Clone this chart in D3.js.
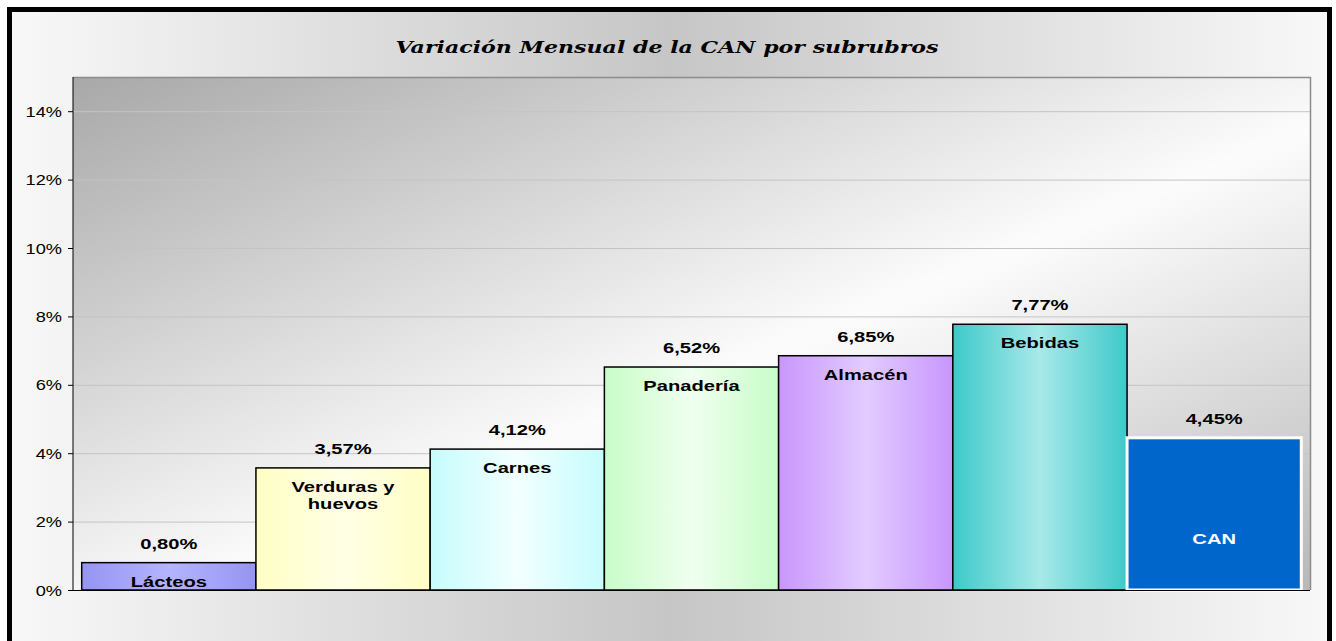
<!DOCTYPE html>
<meta charset="utf-8">
<script src="https://d3js.org/d3.v7.min.js"></script>
<style>
  body { margin: 0; background: #fff; }
  .tick text { font-family: Arial, "Liberation Sans", sans-serif; font-size: 14px; fill: #000; }
  .lbl { font-family: Arial, "Liberation Sans", sans-serif; font-size: 15.5px; font-weight: bold; }
</style>
<svg id="chart" width="1336" height="641"></svg>
<script>
  // data
  var categories = ["Lácteos", "Verduras y huevos", "Carnes", "Panadería", "Almacén", "Bebidas", "CAN"];
  var values = [0.80, 3.57, 4.12, 6.52, 6.85, 7.77, 4.45];
  var yTicks = [0, 2, 4, 6, 8, 10, 12, 14];
  // edge / centre colours of each bar's gradient
  var edgeColors = ["#9595f2", "#fefec4", "#c6fcfc", "#c8fcc8", "#c896fc", "#3ec9c9", "#0066cc"];
  var midColors = ["#b4b4ff", "#ffffe6", "#f2ffff", "#f0fff0", "#e2ccff", "#a8e9e9", "#0066cc"];

  var svg = d3.select("#chart"),
    width = +svg.attr("width"),
    height = +svg.attr("height");

  var SX = 1.3; // the original image is stretched horizontally

  // place a text at (x,y) and stretch it horizontally
  function stretch(sel, x, y) {
    sel.attr("transform", function (d, i) {
      return "translate(" + x(d, i) + "," + y(d, i) + ") scale(" + SX + ",1)";
    });
  }

  var defs = svg.append("defs");

  // outer background gradient
  var bg = defs.append("linearGradient").attr("id", "bg")
    .attr("x1", "0%").attr("y1", "0%").attr("x2", "100%").attr("y2", "0%");
  bg.append("stop").attr("offset", "0%").attr("stop-color", "#f8f8f8");
  bg.append("stop").attr("offset", "50%").attr("stop-color", "#c6c6c6");
  bg.append("stop").attr("offset", "100%").attr("stop-color", "#f8f8f8");

  // plot area gradient (dark top-left, white diagonal, grey bottom-right)
  var pg = defs.append("linearGradient").attr("id", "plotbg")
    .attr("x1", "0%").attr("y1", "0%").attr("x2", "100%").attr("y2", "100%");
  pg.append("stop").attr("offset", "0%").attr("stop-color", "#a8a8a8");
  pg.append("stop").attr("offset", "55%").attr("stop-color", "#fcfcfc");
  pg.append("stop").attr("offset", "100%").attr("stop-color", "#b8b8b8");

  categories.forEach(function (c, i) {
    var g = defs.append("linearGradient").attr("id", "bar" + i)
      .attr("x1", "0%").attr("y1", "0%").attr("x2", "100%").attr("y2", "0%");
    g.append("stop").attr("offset", "0%").attr("stop-color", edgeColors[i]);
    g.append("stop").attr("offset", "50%").attr("stop-color", midColors[i]);
    g.append("stop").attr("offset", "100%").attr("stop-color", edgeColors[i]);
  });

  svg.append("rect").attr("x", 9.5).attr("y", 9.5).attr("width", 1320).attr("height", 660)
    .attr("fill", "url(#bg)").attr("stroke", "#000").attr("stroke-width", 5);

  svg.append("text")
    .attr("text-anchor", "middle")
    .style("font-family", "'DejaVu Serif', serif")
    .style("font-size", "17px")
    .style("font-weight", "bold")
    .style("font-style", "italic")
    .text("Variación Mensual de la CAN por subrubros")
    .call(stretch, function () { return 667; }, function () { return 53; });

  var margin = { left: 73, top: 77, right: 1310, bottom: 590 };

  var x = d3.scaleBand()
    .domain(categories)
    .range([margin.left, margin.right])
    .paddingInner(0)
    .paddingOuter(0.05);

  var y = d3.scaleLinear()
    .domain([0, 15])
    .range([margin.bottom, margin.top]);

  svg.append("rect")
    .attr("x", margin.left).attr("y", margin.top)
    .attr("width", margin.right - margin.left).attr("height", margin.bottom - margin.top)
    .attr("fill", "url(#plotbg)");

  // grid
  svg.append("g").selectAll("line")
    .data(yTicks.filter(function (d) { return d > 0; }))
    .enter().append("line")
    .attr("x1", margin.left).attr("x2", margin.right)
    .attr("y1", function (d) { return y(d) + 0.5; })
    .attr("y2", function (d) { return y(d) + 0.5; })
    .attr("stroke", "#c4c4c4").attr("stroke-width", 1);

  // plot border top/right
  svg.append("path")
    .attr("d", "M" + margin.left + "," + (margin.top + 0.5) + "H" + (margin.right + 0.5) + "V" + margin.bottom)
    .attr("fill", "none").attr("stroke", "#8c8c8c").attr("stroke-width", 1.5);

  // bars
  svg.append("g").selectAll("rect")
    .data(values)
    .enter().append("rect")
    .attr("x", function (d, i) { return x(categories[i]); })
    .attr("y", function (d) { return y(d); })
    .attr("width", x.bandwidth())
    .attr("height", function (d) { return y(0) - y(d); })
    .attr("fill", function (d, i) { return "url(#bar" + i + ")"; })
    .attr("stroke", function (d, i) { return i === 6 ? "#fff" : "#000"; })
    .attr("stroke-width", function (d, i) { return i === 6 ? 3 : 1.5; });

  // axes
  var yAxis = svg.append("g")
    .attr("transform", "translate(" + margin.left + ",0)")
    .call(d3.axisLeft(y).tickValues(yTicks).tickSize(5)
      .tickFormat(function (d) { return d + "%"; }));
  yAxis.selectAll("line").attr("stroke", "#000");
  yAxis.select(".domain").attr("stroke", "#000").attr("d", "M0," + margin.top + "V" + margin.bottom);
  yAxis.selectAll(".tick text")
    .attr("x", null).attr("dy", null)
    .call(stretch, function () { return -11; }, function () { return 5; });

  svg.append("line")
    .attr("x1", margin.left - 5).attr("x2", margin.right)
    .attr("y1", margin.bottom + 0.5).attr("y2", margin.bottom + 0.5)
    .attr("stroke", "#000").attr("stroke-width", 1.2);

  // value labels
  svg.append("g").selectAll("text")
    .data(values)
    .enter().append("text")
    .attr("class", "lbl")
    .attr("text-anchor", "middle")
    .text(function (d) { return d.toFixed(2).replace(".", ",") + "%"; })
    .call(stretch,
      function (d, i) { return x(categories[i]) + x.bandwidth() / 2; },
      function (d) { return y(d) - 14; });

  // category labels inside bars
  var cat = svg.append("g").selectAll("text")
    .data(categories)
    .enter().append("text")
    .attr("class", "lbl")
    .attr("text-anchor", "middle")
    .attr("fill", function (d, i) { return i === 6 ? "#fff" : "#000"; })
    .call(stretch,
      function (d) { return x(d) + x.bandwidth() / 2; },
      function (d, i) { return i === 6 ? (y(values[i]) + y(0)) / 2 + 30 : y(values[i]) + 24; });
  cat.each(function (d) {
    var t = d3.select(this);
    if (d === "Verduras y huevos") {
      t.append("tspan").attr("x", 0).text("Verduras y");
      t.append("tspan").attr("x", 0).attr("dy", 17).text("huevos");
    } else {
      t.text(d);
    }
  });
</script>
